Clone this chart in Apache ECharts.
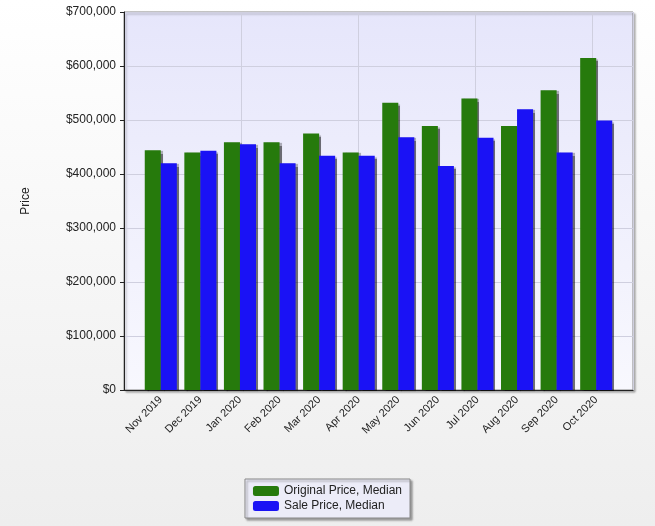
<!DOCTYPE html>
<html style="height: 100%">
<head>
    <meta charset="UTF-8">
    <title>Price</title>
</head>
<body style="height: 100%; margin: 0">
    <div id="container" style="width: 655px; height: 526px"></div>
    <script src="https://cdn.jsdelivr.net/npm/echarts@6/dist/echarts.min.js"></script>
    <script type="text/javascript">
        var months = ['Nov 2019', 'Dec 2019', 'Jan 2020', 'Feb 2020', 'Mar 2020', 'Apr 2020',
            'May 2020', 'Jun 2020', 'Jul 2020', 'Aug 2020', 'Sep 2020', 'Oct 2020'];
        var originalPrice = [444000, 440000, 459000, 459000, 475000, 440000, 532000, 489000, 540000, 489000, 555000, 615000];
        var salePrice = [420000, 443000, 455000, 420000, 434000, 434000, 468000, 415000, 467000, 520000, 440000, 499000];

        var myChart = echarts.init(document.getElementById('container'));
        var barShadow = {shadowColor: 'rgba(0,0,0,0.55)', shadowOffsetX: 2, shadowOffsetY: 1, shadowBlur: 1};
        var option = {
            backgroundColor: new echarts.graphic.LinearGradient(0, 0, 0, 1, [
                {offset: 0, color: '#ffffff'}, {offset: 1, color: '#eeeeee'}]),
            textStyle: {fontFamily: 'Liberation Sans', color: '#222'},
            grid: [{
                left: 124, right: 22, top: 12, bottom: 136,
                show: true, borderColor: '#888', borderWidth: 1,
                backgroundColor: new echarts.graphic.LinearGradient(0, 0, 0, 1, [
                    {offset: 0, color: '#e6e6fb'}, {offset: 1, color: '#f8f8fe'}]),
                shadowColor: 'rgba(0,0,0,0.3)', shadowOffsetX: 2, shadowOffsetY: 2, shadowBlur: 2
            }, {
                // bars sit inset from the frame
                left: 141, right: 39, top: 12, bottom: 136
            }],
            legend: {
                bottom: 8, left: 'center', orient: 'vertical',
                itemWidth: 26, itemHeight: 10, itemGap: 3,
                padding: [6, 8, 6, 8],
                backgroundColor: '#ececf8', borderColor: '#888', borderWidth: 1,
                shadowColor: 'rgba(0,0,0,0.35)', shadowOffsetX: 2, shadowOffsetY: 2, shadowBlur: 2,
                textStyle: {fontSize: 12, fontFamily: 'Liberation Sans', color: '#222'},
                data: ['Original Price, Median', 'Sale Price, Median']
            },
            xAxis: [{
                gridIndex: 0,
                type: 'value', min: 0, max: 509, interval: 117, position: 'bottom',
                axisLine: {show: true, onZero: false, lineStyle: {color: '#222'}},
                axisTick: {show: false}, axisLabel: {show: false},
                splitLine: {show: true, lineStyle: {color: '#cfcfdf'}}
            }, {
                gridIndex: 1,
                type: 'category',
                data: months,
                axisLine: {show: false},
                axisTick: {show: false},
                axisLabel: {rotate: 45, fontSize: 11, color: '#222', margin: 8},
                splitLine: {show: false}
            }],
            yAxis: [{
                gridIndex: 0,
                type: 'value', min: 0, max: 700000, interval: 100000,
                name: 'Price', nameLocation: 'middle', nameGap: 92,
                nameTextStyle: {fontSize: 12, color: '#222'},
                axisLine: {show: true, lineStyle: {color: '#222'}},
                axisTick: {show: true, length: 4},
                axisLabel: {fontSize: 12, color: '#222', formatter: function (v) {
                    return '$' + v.toLocaleString('en-US');
                }},
                splitLine: {lineStyle: {color: '#cfcfdf'}}
            }, {
                gridIndex: 1,
                type: 'value', min: 0, max: 700000, interval: 100000,
                axisLine: {show: false}, axisTick: {show: false}, axisLabel: {show: false},
                splitLine: {show: false}
            }],
            series: [{
                name: 'Original Price, Median', type: 'bar', barGap: '0%', barCategoryGap: '19%',
                xAxisIndex: 1, yAxisIndex: 1,
                itemStyle: Object.assign({color: '#267a0c'}, barShadow),
                data: originalPrice
            }, {
                name: 'Sale Price, Median', type: 'bar',
                xAxisIndex: 1, yAxisIndex: 1,
                itemStyle: Object.assign({color: '#1a12f5'}, barShadow),
                data: salePrice
            }]
        };
        myChart.setOption(option);
    </script>
</body>
</html>
